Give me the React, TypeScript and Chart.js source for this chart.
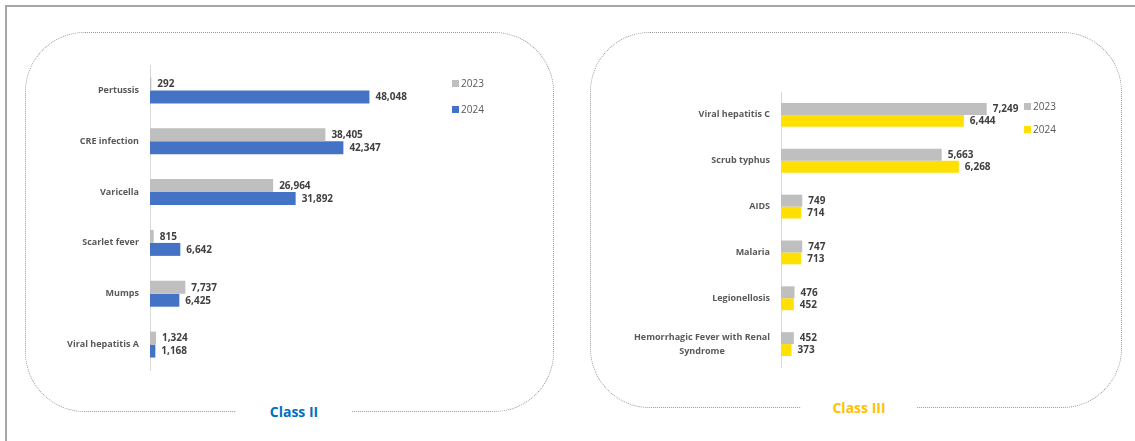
import React, { useEffect, useRef } from "react";
import { Chart, registerables } from "chart.js";
Chart.register(...registerables);

// ---- Data ----
const class2Categories: (string | string[])[] = ["Pertussis", "CRE infection", "Varicella", "Scarlet fever", "Mumps", "Viral hepatitis A"];
const class2Values2023 = [292, 38405, 26964, 815, 7737, 1324];
const class2Values2024 = [48048, 42347, 31892, 6642, 6425, 1168];

const class3Categories: (string | string[])[] = ["Viral hepatitis C", "Scrub typhus", "AIDS", "Malaria", "Legionellosis", ["Hemorrhagic Fever with Renal", "Syndrome"]];
const class3Values2023 = [7249, 5663, 749, 747, 476, 452];
const class3Values2024 = [6444, 6268, 714, 713, 452, 373];

const seriesLabels = ["2023", "2024"];
const panelTitles = ["Class II", "Class III"];

const FONT = '"Open Sans", "Noto Sans", sans-serif';
const GRAY = "#BFBFBF";
const BLUE = "#4472C4";
const YELLOW = "#FFE000";

const drawPlugin = {
  id: "drawLabels",
  afterDatasetsDraw(chart: any) {
    const ctx = chart.ctx;
    ctx.save();
    ctx.font = `bold 10px ${FONT}`;
    ctx.fillStyle = "#404040";
    ctx.textBaseline = "middle";
    ctx.textAlign = "left";
    chart.data.datasets.forEach((ds: any, i: number) => {
      chart.getDatasetMeta(i).data.forEach((el: any, j: number) => {
        ctx.fillText(Number(ds.data[j]).toLocaleString("en-US"), el.x + 6, el.y + 0.5);
      });
    });
    // category labels
    const ys = chart.scales.y;
    ctx.font = `bold 9px ${FONT}`;
    ctx.fillStyle = "#595959";
    (chart.data.labels as any[]).forEach((lab, i) => {
      const lines: string[] = Array.isArray(lab) ? lab : [lab];
      const cy = ys.getPixelForTick(i);
      const lh = 14;
      const mw = Math.max(...lines.map((l) => ctx.measureText(l).width));
      const xr = ys.right - 11;
      lines.forEach((l, k) => {
        ctx.textAlign = "center";
        ctx.fillText(l, xr - mw / 2, cy + (k - (lines.length - 1) / 2) * lh);
      });
    });
    ctx.restore();
  },
};

type BarProps = {
  labels: (string | string[])[];
  v23: number[];
  v24: number[];
  color24: string;
  max: number;
  left: number;
  top: number;
  width: number;
  height: number;
  padTop: number;
  padBottom: number;
  padRight: number;
  yWidth: number;
  catPct: number;
};

function BarChart(p: BarProps) {
  const ref = useRef<HTMLCanvasElement | null>(null);
  useEffect(() => {
    if (!ref.current) return;
    const chart = new Chart(ref.current, {
      type: "bar",
      data: {
        labels: p.labels as any,
        datasets: [
          { label: seriesLabels[0], data: p.v23, backgroundColor: GRAY, categoryPercentage: p.catPct, barPercentage: 1 },
          { label: seriesLabels[1], data: p.v24, backgroundColor: p.color24, categoryPercentage: p.catPct, barPercentage: 1 },
        ],
      },
      options: {
        indexAxis: "y",
        responsive: false,
        maintainAspectRatio: false,
        animation: false,
        layout: { padding: { top: p.padTop, bottom: p.padBottom, right: p.padRight, left: 0 } },
        plugins: { legend: { display: false }, tooltip: { enabled: false } },
        scales: {
          x: { display: false, min: 0, max: p.max },
          y: {
            grid: { display: false, drawTicks: false },
            border: { display: true, color: "#D9D9D9", width: 1 },
            ticks: { display: false },
            afterFit: (s: any) => {
              s.width = p.yWidth;
            },
          },
        },
      },
      plugins: [drawPlugin],
    });
    return () => chart.destroy();
  }, []);
  return (
    <canvas
      ref={ref}
      width={p.width}
      height={p.height}
      style={{ position: "absolute", left: p.left, top: p.top, width: p.width, height: p.height }}
    />
  );
}

function Legend({ left, top, gap, color24 }: { left: number; top: number; gap: number; color24: string }) {
  const items = [
    { label: seriesLabels[0], color: GRAY },
    { label: seriesLabels[1], color: color24 },
  ];
  return (
    <>
      {items.map((it, i) => (
        <div
          key={i}
          style={{
            position: "absolute",
            left,
            top: top + i * gap,
            display: "flex",
            alignItems: "center",
            fontFamily: FONT,
            fontSize: 10,
            color: "#595959",
            lineHeight: "12px",
          }}
        >
          <span style={{ display: "inline-block", width: 7, height: 7, background: it.color, marginRight: 2 }} />
          <span>{it.label}</span>
        </div>
      ))}
    </>
  );
}

function Panel({ left, top, width, height, title, titleColor, titleCenter }: any) {
  return (
    <>
      <div
        style={{
          position: "absolute",
          left,
          top,
          width,
          height,
          border: "1px dotted #999999",
          borderRadius: 60,
          boxSizing: "border-box",
        }}
      />
      <div
        style={{
          position: "absolute",
          left: titleCenter - 58,
          width: 116,
          top: top + height - 10,
          height: 20,
          background: "#fff",
          textAlign: "center",
          fontFamily: FONT,
          fontWeight: 700,
          fontSize: 14,
          lineHeight: "20px",
          color: titleColor,
        }}
      >
        {title}
      </div>
    </>
  );
}

export default function App() {
  return (
    <div style={{ position: "absolute", left: 0, top: 0, width: 1135, height: 441, overflow: "hidden", background: "#fff" }}>
      <div
        style={{
          position: "absolute",
          left: 5,
          top: 5,
          width: 1200,
          height: 500,
          borderLeft: "2px solid #A6A6A6",
          borderTop: "2px solid #A6A6A6",
        }}
      />
      <Panel left={25} top={32} width={529} height={380} title={panelTitles[0]} titleColor="#0070C0" titleCenter={294} />
      <Panel left={590} top={32} width={532} height={376} title={panelTitles[1]} titleColor="#FFC000" titleCenter={859} />
      <BarChart
        labels={class2Categories}
        v23={class2Values2023}
        v24={class2Values2024}
        color24={BLUE}
        max={60000}
        left={25}
        top={32}
        width={528}
        height={378}
        padTop={33}
        padBottom={40}
        padRight={129}
        yWidth={125}
        catPct={0.51}
      />
      <BarChart
        labels={class3Categories}
        v23={class3Values2023}
        v24={class3Values2024}
        color24={YELLOW}
        max={8000}
        left={590}
        top={32}
        width={531}
        height={375}
        padTop={60}
        padBottom={40}
        padRight={113}
        yWidth={191}
        catPct={0.52}
      />
      <Legend left={452} top={77} gap={26} color24={BLUE} />
      <Legend left={1024} top={100} gap={23} color24={YELLOW} />
    </div>
  );
}
